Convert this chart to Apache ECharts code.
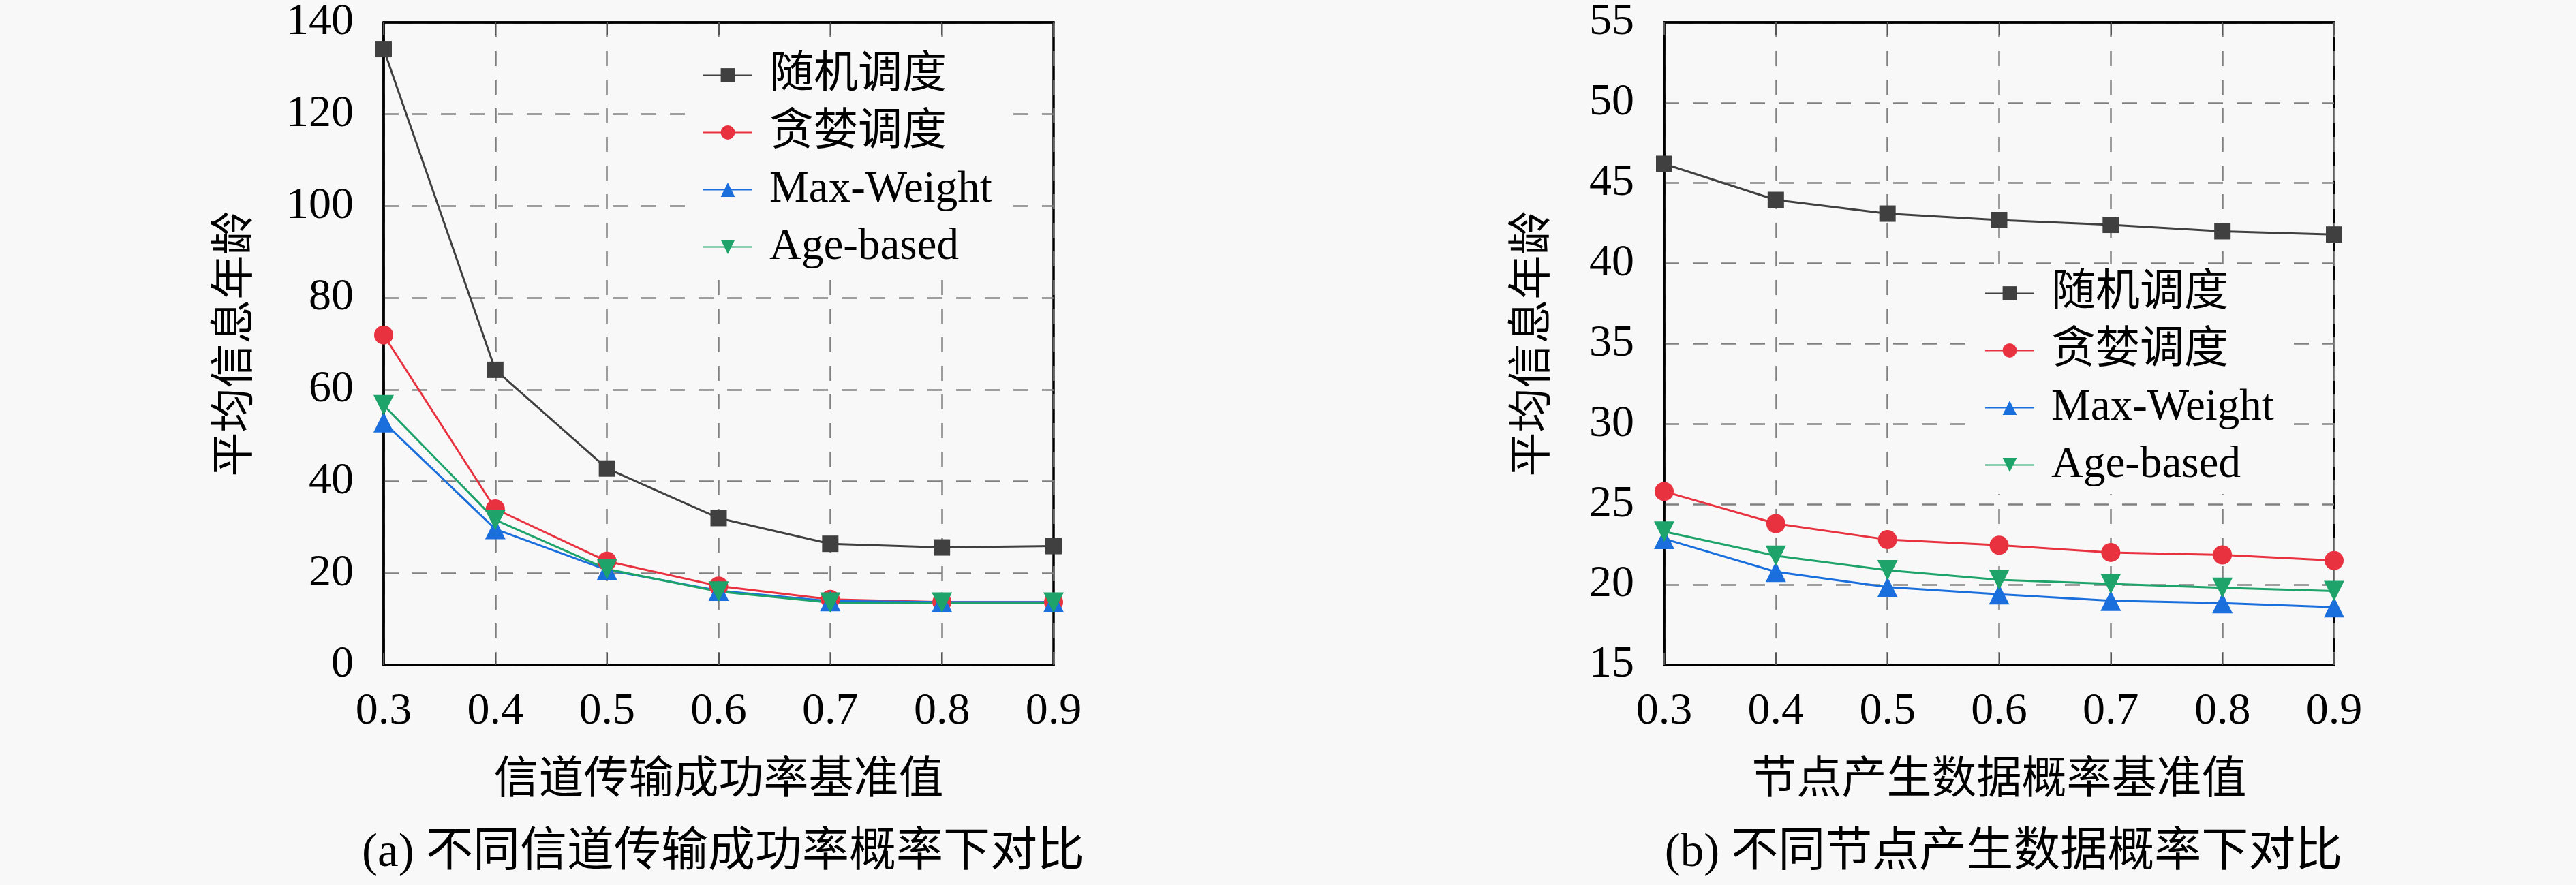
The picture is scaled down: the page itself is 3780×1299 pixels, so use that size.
<!DOCTYPE html>
<html>
<head>
<meta charset="utf-8">
<script src="https://cdn.jsdelivr.net/npm/echarts@6/dist/echarts.min.js"></script>
<style>
  html, body { margin: 0; padding: 0; background: #f8f8f8; }
  #main { width: 3780px; height: 1299px; }
</style>
</head>
<body>
<div id="main"></div>
<script>
var myChart = echarts.init(document.getElementById('main'));

var xLabels = ['0.3', '0.4', '0.5', '0.6', '0.7', '0.8', '0.9'];
var seriesNames = ['随机调度', '贪婪调度', 'Max-Weight', 'Age-based'];

// (a) 信道传输成功率
var randA   = [134.2, 64.3, 42.8, 32.0, 26.4, 25.6, 25.9];
var greedyA = [71.9, 34.0, 22.6, 17.2, 14.3, 13.7, 13.7];
var maxwA   = [52.9, 29.6, 20.7, 16.2, 13.9, 13.7, 13.7];
var ageA    = [56.6, 31.6, 20.9, 16.0, 13.6, 13.6, 13.6];

// (b) 节点产生数据概率
var randB   = [46.2, 43.95, 43.1, 42.7, 42.4, 42.0, 41.8];
var greedyB = [25.8, 23.8, 22.8, 22.45, 22.0, 21.85, 21.5];
var maxwB   = [22.85, 20.8, 19.85, 19.4, 19.0, 18.85, 18.6];
var ageB    = [23.3, 21.8, 20.9, 20.3, 20.05, 19.8, 19.6];

var colors  = ['#404040', '#e8323f', '#1b6fdc', '#1ea36a'];
var symbols = ['rect', 'circle', 'triangle', 'path://M0,0 L10,0 L5,9 Z'];
var sizes   = [24, 28, 30, 30];

var font = '"Liberation Serif", "Noto Sans CJK SC", serif';
var bg = '#f8f8f8';

function makeSeries(data, i, gi) {
    return {
        name: seriesNames[i],
        type: 'line',
        xAxisIndex: gi * 2,
        yAxisIndex: gi,
        data: data,
        symbol: symbols[i],
        symbolSize: sizes[i],
        showSymbol: true,
        lineStyle: { color: colors[i], width: 3 },
        itemStyle: { color: colors[i] },
        emphasis: { disabled: true },
        animation: false
    };
}

function bottomAxis(gi, name) {
    return {
        type: 'category',
        gridIndex: gi,
        data: xLabels,
        boundaryGap: false,
        name: name,
        nameLocation: 'middle',
        nameGap: 138,
        nameTextStyle: { fontFamily: font, fontSize: 66, color: '#000' },
        axisLine: { lineStyle: { color: '#000', width: 3.5 } },
        axisTick: { inside: true, length: 18, lineStyle: { color: '#555', width: 2 } },
        axisLabel: { fontFamily: font, fontSize: 66, color: '#000', margin: 36 },
        splitLine: { show: true, lineStyle: { color: '#808080', width: 2.5, type: [22, 20] } }
    };
}

function topAxis(gi) {
    return {
        type: 'category',
        gridIndex: gi,
        position: 'top',
        data: xLabels,
        boundaryGap: false,
        axisLine: { lineStyle: { color: '#000', width: 3.5 } },
        axisTick: { inside: true, length: 18, lineStyle: { color: '#555', width: 2 } },
        axisLabel: { show: false },
        splitLine: { show: false }
    };
}

function leftAxis(gi, min, max, step, gap) {
    return {
        type: 'value',
        gridIndex: gi,
        min: min,
        max: max,
        interval: step,
        name: '平均信息年龄',
        nameLocation: 'middle',
        nameGap: gap,
        nameTextStyle: { fontFamily: font, fontSize: 65, color: '#000' },
        axisLine: { show: true, lineStyle: { color: '#000', width: 3.5 } },
        axisTick: { show: false },
        axisLabel: { fontFamily: font, fontSize: 66, color: '#000', margin: 44 },
        splitLine: { show: true, lineStyle: { color: '#808080', width: 2.5, type: [22, 20] } }
    };
}

function legendAt(left, top) {
    return {
        orient: 'vertical',
        left: left,
        top: top,
        data: seriesNames,
        backgroundColor: bg,
        padding: [10, 25, 10, 26],
        itemWidth: 72,
        itemHeight: 26,
        itemGap: 19,
        selectedMode: false,
        textStyle: { fontFamily: font, fontSize: 65, color: '#000', lineHeight: 65, padding: [0, 0, 0, 20] }
    };
}

option = {
    backgroundColor: bg,
    animation: false,
    title: [
        {
            text: '(a) 不同信道传输成功率概率下对比',
            left: 1056, top: 1213, textAlign: 'center',
            textStyle: { fontFamily: font, fontSize: 69, fontWeight: 'normal', color: '#000' }
        },
        {
            text: '(b) 不同节点产生数据概率下对比',
            left: 2935, top: 1213, textAlign: 'center',
            textStyle: { fontFamily: font, fontSize: 69, fontWeight: 'normal', color: '#000' }
        }
    ],
    grid: [
        { left: 563, top: 31, width: 983, height: 945, show: true, borderColor: '#000', borderWidth: 3.5, backgroundColor: 'transparent' },
        { left: 2442, top: 31, width: 983, height: 945, show: true, borderColor: '#000', borderWidth: 3.5, backgroundColor: 'transparent' }
    ],
    xAxis: [
        bottomAxis(0, '信道传输成功率基准值'), topAxis(0),
        bottomAxis(1, '节点产生数据概率基准值'), topAxis(1)
    ],
    yAxis: [
        leftAxis(0, 0, 140, 20, 184),
        leftAxis(1, 15, 55, 5, 159)
    ],
    legend: [
        legendAt(1005, 68),
        legendAt(2886, 388)
    ],
    series: [
        makeSeries(randA, 0, 0), makeSeries(greedyA, 1, 0), makeSeries(maxwA, 2, 0), makeSeries(ageA, 3, 0),
        makeSeries(randB, 0, 1), makeSeries(greedyB, 1, 1), makeSeries(maxwB, 2, 1), makeSeries(ageB, 3, 1)
    ]
};
myChart.setOption(option);
</script>
</body>
</html>
